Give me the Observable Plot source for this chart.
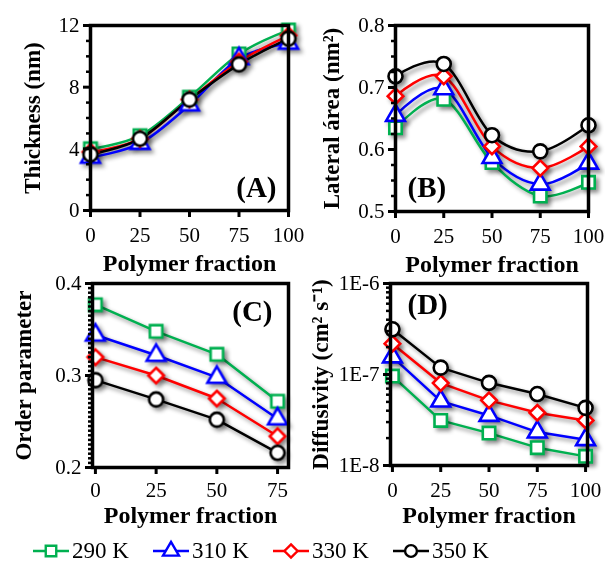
<!DOCTYPE html>
<html><head><meta charset="utf-8">
<script src="https://cdn.jsdelivr.net/npm/d3@7"></script>
<script src="https://cdn.jsdelivr.net/npm/@observablehq/plot@0.6"></script>
<style>
body{margin:0;background:#fff;}
#wrap{position:relative;width:605px;height:562px;font-family:"Liberation Serif","Times New Roman",serif;color:#000;}
.panel{position:absolute;}
.panel svg g[aria-label="line"], .panel svg g[aria-label="dot"]{filter:drop-shadow(3px 3px 2px rgba(0,0,0,0.45));}
#legend{position:absolute;left:0;top:536px;width:605px;height:30px;}
.item{position:absolute;top:0;display:flex;align-items:center;font-size:23px;height:30px;}
.item svg{margin-right:3px;}
</style></head>
<body><div id="wrap"></div>
<script>
// ---- data ----
const fractions = [0, 25, 50, 75, 100];
const fractionsC = [0, 25, 50, 75];
const temps = ["290 K", "310 K", "330 K", "350 K"];
const colors = ["#00b050", "#0000ff", "#ff0000", "#000000"];
const symbols = ["square", "triangle", "diamond2", "circle"];

// (A) Thickness (nm)
const thick290 = [4.0, 4.85, 7.35, 10.15, 11.7];
const thick310 = [3.45, 4.35, 6.85, 9.85, 10.85];
const thick330 = [3.8, 4.65, 7.2, 9.65, 11.35];
const thick350 = [3.64, 4.65, 7.19, 9.48, 11.15];

// (B) Lateral area (nm^2)
const area290 = [0.635, 0.681, 0.579, 0.525, 0.547];
const area310 = [0.655, 0.698, 0.587, 0.544, 0.578];
const area330 = [0.686, 0.718, 0.605, 0.570, 0.605];
const area350 = [0.718, 0.738, 0.623, 0.597, 0.639];

// (C) Order parameter
const order290 = [0.377, 0.348, 0.323, 0.272];
const order310 = [0.344, 0.322, 0.298, 0.253];
const order330 = [0.320, 0.300, 0.275, 0.234];
const order350 = [0.295, 0.274, 0.252, 0.216];

// (D) Diffusivity (cm^2 s^-1)
const diff290 = [9.6e-8, 3.13e-8, 2.27e-8, 1.57e-8, 1.26e-8];
const diff310 = [1.56e-7, 5.1e-8, 3.55e-8, 2.33e-8, 1.92e-8];
const diff330 = [2.18e-7, 8.05e-8, 5.2e-8, 3.8e-8, 3.13e-8];
const diff350 = [3.14e-7, 1.19e-7, 8.1e-8, 6.1e-8, 4.3e-8];

// tick labels
const ticksA = [0, 4, 8, 12];
const minorA = [1, 2, 3, 5, 6, 7, 9, 10, 11];
const ticksB = [0.5, 0.6, 0.7, 0.8];
const minorB = [0.525, 0.55, 0.575, 0.625, 0.65, 0.675, 0.725, 0.75, 0.775];
const ticksC = [0.2, 0.3, 0.4];
const minorC = d3.range(0.205, 0.4, 0.005).filter(v => Math.abs(v - 0.3) > 0.001);
const ticksD = [1e-8, 1e-7, 1e-6];
const minorD = [2, 3, 4, 5, 6, 7, 8, 9].flatMap(m => [m * 1e-8, m * 1e-7]);

function tidy(xs, series) {
  return series.flatMap((vals, i) => vals.map((v, j) => ({x: xs[j], v, t: temps[i]})));
}

const font = '"Liberation Serif","Times New Roman",serif';

function panel(o) {
  const x0 = o.xDomain[0], y0 = o.yDomain[0];
  const plot = Plot.plot({
    width: o.width, height: o.height,
    marginLeft: o.ml, marginRight: o.mr, marginTop: o.mt, marginBottom: o.mb,
    x: {domain: o.xDomain, axis: null},
    y: {domain: o.yDomain, type: o.yType || "linear", axis: null},
    color: {domain: temps, range: colors},
    symbol: {domain: temps, range: symbols},
    style: {fontFamily: font, fontSize: "20px", color: "#000", background: "transparent", overflow: "visible"},
    marks: [
      Plot.line(o.rows, {x: "x", y: "v", z: "t", stroke: "t", strokeWidth: 2.5, curve: o.curve || "linear"}),
      Plot.dot(o.rows, {x: "x", y: "v", symbol: "t", stroke: "t", fill: "white", r: 7, strokeWidth: 2.6}),
      // y minor and major ticks
      Plot.ruleY(o.yMinor, {y: d => d, x1: () => x0, x2: () => x0, insetLeft: -4, stroke: "#000", strokeWidth: 2.5}),
      Plot.ruleY(o.yTicks, {y: d => d, x1: () => x0, x2: () => x0, insetLeft: -7, stroke: "#000", strokeWidth: 3}),
      Plot.text(o.yTicks, {y: d => d, x: () => x0, text: o.yFormat, dx: -11, textAnchor: "end", fontSize: 21}),
      // x ticks
      Plot.ruleX(o.xTicks, {x: d => d, y1: () => y0, y2: () => y0, insetBottom: -7, stroke: "#000", strokeWidth: 3}),
      Plot.text(o.xTicks, {x: d => d, y: () => y0, text: d => String(d), dy: o.xtickDy, fontSize: 21}),
      Plot.frame({stroke: "#000", strokeWidth: 3.5}),
      Plot.text(["Polymer fraction"], {frameAnchor: "bottom", dy: o.xlabDy, lineAnchor: "middle", fontWeight: "bold", fontSize: 24}),
      Plot.text([o.ylabel], {frameAnchor: "left", dx: o.ylabDx, rotate: -90, textAnchor: "middle", lineAnchor: "middle",
        fontWeight: "bold", fontSize: 23}),
      Plot.text([o.tag], {frameAnchor: o.tagAnchor, dx: o.tagDx, dy: o.tagDy, fontWeight: "bold", fontSize: 29,
        textAnchor: o.tagTextAnchor, lineAnchor: o.tagLineAnchor})
    ]
  });
  const div = document.createElement("div");
  div.className = "panel";
  div.style.left = o.left + "px";
  div.style.top = o.top + "px";
  div.appendChild(plot);
  document.getElementById("wrap").appendChild(div);
}

panel({
  left: 0, top: 0, width: 300, height: 290, ml: 90, mr: 12, mt: 25, mb: 80,
  rows: tidy(fractions, [thick290, thick310, thick330, thick350]),
  xDomain: [0, 100], yDomain: [0, 12], xTicks: fractions,
  yTicks: ticksA, yMinor: minorA, yFormat: d => String(d), curve: "cardinal",
  ylabel: "Thickness (nm)", ylabDx: -58, xlabDy: 53, xtickDy: 25,
  tag: "(A)", tagAnchor: "bottom-right", tagDx: -12, tagDy: -14, tagTextAnchor: "end", tagLineAnchor: "bottom"
});

panel({
  left: 300, top: 0, width: 305, height: 290, ml: 95, mr: 17, mt: 25, mb: 79,
  rows: tidy(fractions, [area290, area310, area330, area350]),
  xDomain: [0, 100], yDomain: [0.5, 0.8], xTicks: fractions,
  yTicks: ticksB, yMinor: minorB, yFormat: d => d.toFixed(1), curve: "cardinal",
  ylabel: "Lateral área (nm²)", ylabDx: -64, xlabDy: 53, xtickDy: 25,
  tag: "(B)", tagAnchor: "bottom-left", tagDx: 12, tagDy: -15, tagTextAnchor: "start", tagLineAnchor: "bottom"
});

panel({
  left: 0, top: 258, width: 300, height: 300, ml: 92, mr: 12, mt: 25, mb: 91,
  rows: tidy(fractionsC, [order290, order310, order330, order350]),
  xDomain: [-1.2, 79.5], yDomain: [0.2, 0.4], xTicks: fractionsC,
  yTicks: ticksC, yMinor: minorC, yFormat: d => d.toFixed(1),
  ylabel: "Order parameter", ylabDx: -69, xlabDy: 48, xtickDy: 23,
  tag: "(C)", tagAnchor: "top-right", tagDx: -16, tagDy: 17, tagTextAnchor: "end", tagLineAnchor: "top"
});

panel({
  left: 300, top: 258, width: 305, height: 300, ml: 90, mr: 18, mt: 25, mb: 93,
  rows: tidy(fractions, [diff290, diff310, diff330, diff350]),
  xDomain: [-1, 101], yDomain: [1e-8, 1e-6], yType: "log", xTicks: fractions,
  yTicks: ticksD, yMinor: minorD, yFormat: d => "1E" + Math.round(Math.log10(d)),
  ylabel: "Diffusivity (cm² s⁻¹)", ylabDx: -70, xlabDy: 50, xtickDy: 25,
  tag: "(D)", tagAnchor: "top-left", tagDx: 17, tagDy: 10, tagTextAnchor: "start", tagLineAnchor: "top"
});

// legend
const legend = document.createElement("div");
legend.id = "legend";
document.getElementById("wrap").appendChild(legend);
const symTypes = {square: d3.symbolSquare, triangle: d3.symbolTriangle, diamond2: d3.symbolDiamond2, circle: d3.symbolCircle};
temps.forEach((t, i) => {
  const item = d3.select(legend).append("div").attr("class", "item").style("left", (33 + i * 120) + "px");
  const svg = item.append("svg").attr("width", 36).attr("height", 30);
  svg.append("line").attr("x1", 0).attr("x2", 36).attr("y1", 15).attr("y2", 15)
    .attr("stroke", colors[i]).attr("stroke-width", 2.6);
  svg.append("path").attr("transform", "translate(18,15)")
    .attr("d", d3.symbol(symTypes[symbols[i]], 110)())
    .attr("fill", "white").attr("stroke", colors[i]).attr("stroke-width", 2.4);
  item.append("span").text(t);
});
</script></body></html>
